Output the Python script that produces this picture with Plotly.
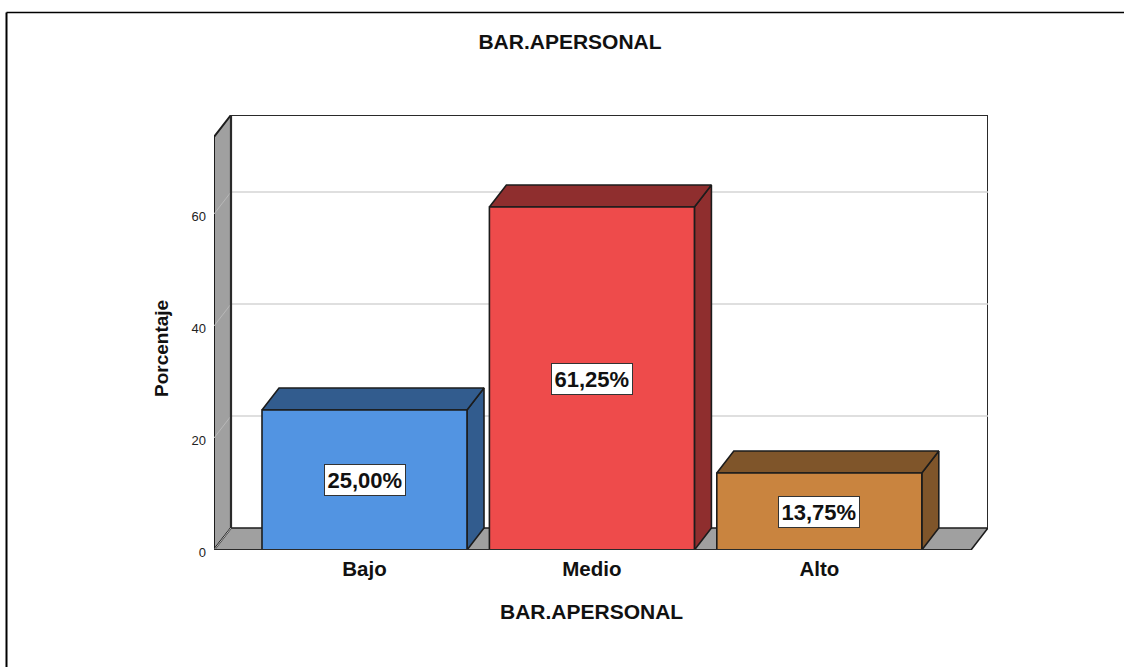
import plotly.graph_objects as go

categories = ["Bajo", "Medio", "Alto"]
percentages = [25.00, 61.25, 13.75]
value_labels = ["25,00%", "61,25%", "13,75%"]
y_ticks = [0, 20, 40, 60]
grid_values = [20, 40, 60]
front_colors = ["#5294E2", "#EE4B4B", "#C9843F"]
side_colors = ["#325C8E", "#8F2E2E", "#7F552A"]
title_text = "BAR.APERSONAL"
y_title = "Porcentaje"

W, H = 1124, 667
LEFT, RIGHT, TOP, BOTTOM = 214, 988, 115, 550
X_UNIT, Y_UNIT = 227.4, 5.6
X0_PX = 364.5
DX, DY = 17 / X_UNIT, 22 / Y_UNIT
HALF = 102.5 / X_UNIT
x_min = (LEFT - X0_PX) / X_UNIT
x_max = (RIGHT - X0_PX) / X_UNIT
y_max = (BOTTOM - TOP) / Y_UNIT
wall_top = y_max - DY
x_front_right = x_max - DX
EDGE = "#1c1c1c"
WALL = "#A0A0A0"
GRID = "#D4D4D4"
FONT = "Liberation Sans"

fig = go.Figure()


def poly(xs, ys, fill, line=EDGE, width=1.6):
    fig.add_trace(go.Scatter(x=xs, y=ys, mode="lines", fill="toself", fillcolor=fill,
                             line=dict(color=line, width=width), hoverinfo="skip",
                             showlegend=False, cliponaxis=False))


def seg(xs, ys, color, width=1.6):
    fig.add_trace(go.Scatter(x=xs, y=ys, mode="lines", line=dict(color=color, width=width),
                             hoverinfo="skip", showlegend=False, cliponaxis=False))


# walls and floor
poly([x_min, x_min + DX, x_min + DX, x_min, x_min], [0, DY, y_max, wall_top, 0], WALL, width=2)
poly([x_min, x_front_right, x_max, x_min + DX, x_min], [0, 0, DY, DY, 0], WALL)
# back wall frame
seg([x_min + DX, x_min + DX, x_max, x_max], [DY, y_max, y_max, DY], "#2a2a2a", 2)
# grid lines
for g in grid_values:
    seg([x_min + DX, x_max], [g + DY, g + DY], GRID, 1.6)
    seg([x_min, x_min + DX], [g, g + DY], "#B8B8B8", 1)
seg([x_min, x_min + DX], [0, DY], "#B8B8B8", 1)
seg([x_min + DX, x_min + DX], [DY, y_max], "#2a2a2a", 2.2)

# bars
for i, v in enumerate(percentages):
    l, r = i - HALF, i + HALF
    poly([r, r + DX, r + DX, r, r], [0, DY, v + DY, v, 0], side_colors[i])
    poly([l, l + DX, r + DX, r, l], [v, v + DY, v + DY, v, v], side_colors[i])
    poly([l, r, r, l, l], [0, 0, v, v, 0], front_colors[i])

seg([x_min, x_front_right], [0, 0], "#2a2a2a", 2)

annotations = [
    dict(x=i, y=percentages[i] / 2, text="<b>%s</b>" % value_labels[i], showarrow=False, xref="x", yref="y",
         font=dict(family=FONT, size=22, color="#111111"),
         bgcolor="white", bordercolor="#333333", borderwidth=1, borderpad=2.5)
    for i in range(len(categories))
]
annotations += [
    dict(x=(161 - LEFT) / (RIGHT - LEFT), y=(BOTTOM - 349) / (BOTTOM - TOP), xref="paper", yref="paper",
         xanchor="center", yanchor="middle",
         text="<b>%s</b>" % y_title, textangle=-90, showarrow=False,
         font=dict(family=FONT, size=19, color="#111111")),
    dict(x=(591 - LEFT) / (RIGHT - LEFT), y=(BOTTOM - 611) / (BOTTOM - TOP), xref="paper", yref="paper",
         xanchor="center", yanchor="middle",
         text="<b>%s</b>" % title_text, showarrow=False,
         font=dict(family=FONT, size=21, color="#111111")),
]

fig.update_layout(
    width=W, height=H, autosize=False,
    margin=dict(l=LEFT, r=W - RIGHT, t=TOP, b=H - BOTTOM, pad=0),
    paper_bgcolor="white", plot_bgcolor="white", showlegend=False,
    title=dict(text="<b>%s</b>" % title_text, x=570 / W, y=1 - 42 / H, xref="container", yref="container",
               xanchor="center", yanchor="middle",
               font=dict(family=FONT, size=21, color="#111111")),
    xaxis=dict(range=[x_min, x_max], tickvals=list(range(len(categories))), ticktext=["<b>%s</b>" % c for c in categories],
               showgrid=False, zeroline=False, showline=False, ticks="", ticklabelstandoff=4,
               tickfont=dict(family=FONT, size=20.5, color="#111111")),
    yaxis=dict(range=[0, y_max], tickvals=y_ticks, showgrid=False, zeroline=False, showline=False,
               ticks="", ticklabelstandoff=7, ticklabelshift=2,
               tickfont=dict(family=FONT, size=13, color="#222222")),
    annotations=annotations,
    shapes=[
        dict(type="line", xref="paper", yref="paper", x0=(6.5 - LEFT) / (RIGHT - LEFT), x1=(W - LEFT) / (RIGHT - LEFT),
             y0=(BOTTOM - 12.5) / (BOTTOM - TOP), y1=(BOTTOM - 12.5) / (BOTTOM - TOP), line=dict(color="black", width=1.5)),
        dict(type="line", xref="paper", yref="paper", x0=(6.5 - LEFT) / (RIGHT - LEFT), x1=(6.5 - LEFT) / (RIGHT - LEFT),
             y0=(BOTTOM - 12.5) / (BOTTOM - TOP), y1=(BOTTOM - H) / (BOTTOM - TOP), line=dict(color="black", width=2)),
    ],
)
fig.write_html("out.html", config=dict(displayModeBar=False),
               post_script="document.body.style.margin='0';document.body.style.overflow='hidden';")
